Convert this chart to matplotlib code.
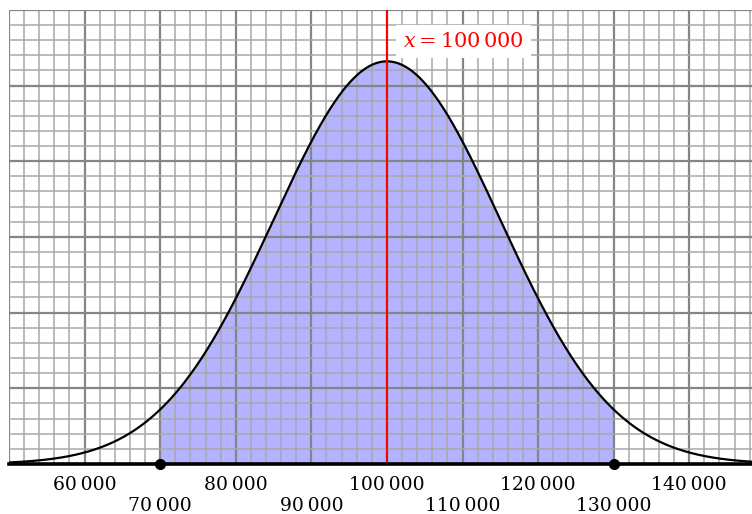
import numpy as np
import matplotlib
matplotlib.use("Agg")
import matplotlib.pyplot as plt

# ---- data ----
mu = 100000
sigma = 15000
shade_lo = 70000
shade_hi = 130000
x_min, x_max = 50000, 148300
y_min, y_max = 0.0, 3.0e-5
tick_values = [50000, 60000, 70000, 80000, 90000, 100000, 110000, 120000, 130000, 140000]
tick_labels = ["", "60\u2009000", "\n70\u2009000", "80\u2009000", "\n90\u2009000",
               "100\u2009000", "\n110\u2009000", "120\u2009000", "\n130\u2009000", "140\u2009000"]
annot_text = r"$x = 100\,000$"

plt.rcParams['mathtext.fontset'] = 'dejavuserif'
plt.rcParams['font.family'] = ['DejaVu Serif']

fig = plt.figure(figsize=(7.52, 5.14), dpi=100)
ax = fig.add_axes([9/752, 50/514, 1 - 9/752, (464 - 9.8)/514])

xs = np.linspace(x_min, x_max, 800)
pdf = np.exp(-0.5 * ((xs - mu) / sigma) ** 2) / (sigma * np.sqrt(2 * np.pi))

mask = (xs >= shade_lo) & (xs <= shade_hi)
xf = np.concatenate(([shade_lo], xs[mask], [shade_hi]))
yf = np.exp(-0.5 * ((xf - mu) / sigma) ** 2) / (sigma * np.sqrt(2 * np.pi))
ax.fill_between(xf, 0, yf, color='#b3b3ff', zorder=1, linewidth=0)

ax.plot(xs, pdf, color='black', lw=1.6, zorder=3)
ax.axvline(mu, color='red', lw=1.5, zorder=3.5)
ax.axhline(0, color='black', lw=2.6, zorder=4, clip_on=False)
ax.plot([shade_lo, shade_hi], [0, 0], 'o', color='black', ms=7, zorder=5, clip_on=False)

ax.text(102100, 2.79e-5, annot_text, color='red', fontsize=15, ha='left', va='center',
        zorder=6, bbox=dict(boxstyle='square,pad=0.35', fc='white', ec='none'))

ax.set_xticks(tick_values)
ax.set_xticklabels(tick_labels, fontsize=13.5, linespacing=1.18)
ax.set_xticks(np.arange(50000, 148301, 2000), minor=True)
ax.set_yticks(np.arange(0, 3.01e-5, 5e-6))
ax.set_yticks(np.arange(0, 3.01e-5, 1e-6), minor=True)
ax.set_xlim(x_min, x_max)
ax.set_ylim(y_min, y_max)
ax.tick_params(axis='both', which='both', length=0)
ax.tick_params(axis='x', pad=9)
ax.tick_params(axis='y', labelleft=False)
ax.set_axisbelow(False)
ax.grid(which='major', color='#858585', lw=1.6)
ax.grid(which='minor', color='#a8a8a8', lw=1.1)
for s in ax.spines.values():
    s.set_visible(False)

fig.savefig('out.png', dpi=100)
